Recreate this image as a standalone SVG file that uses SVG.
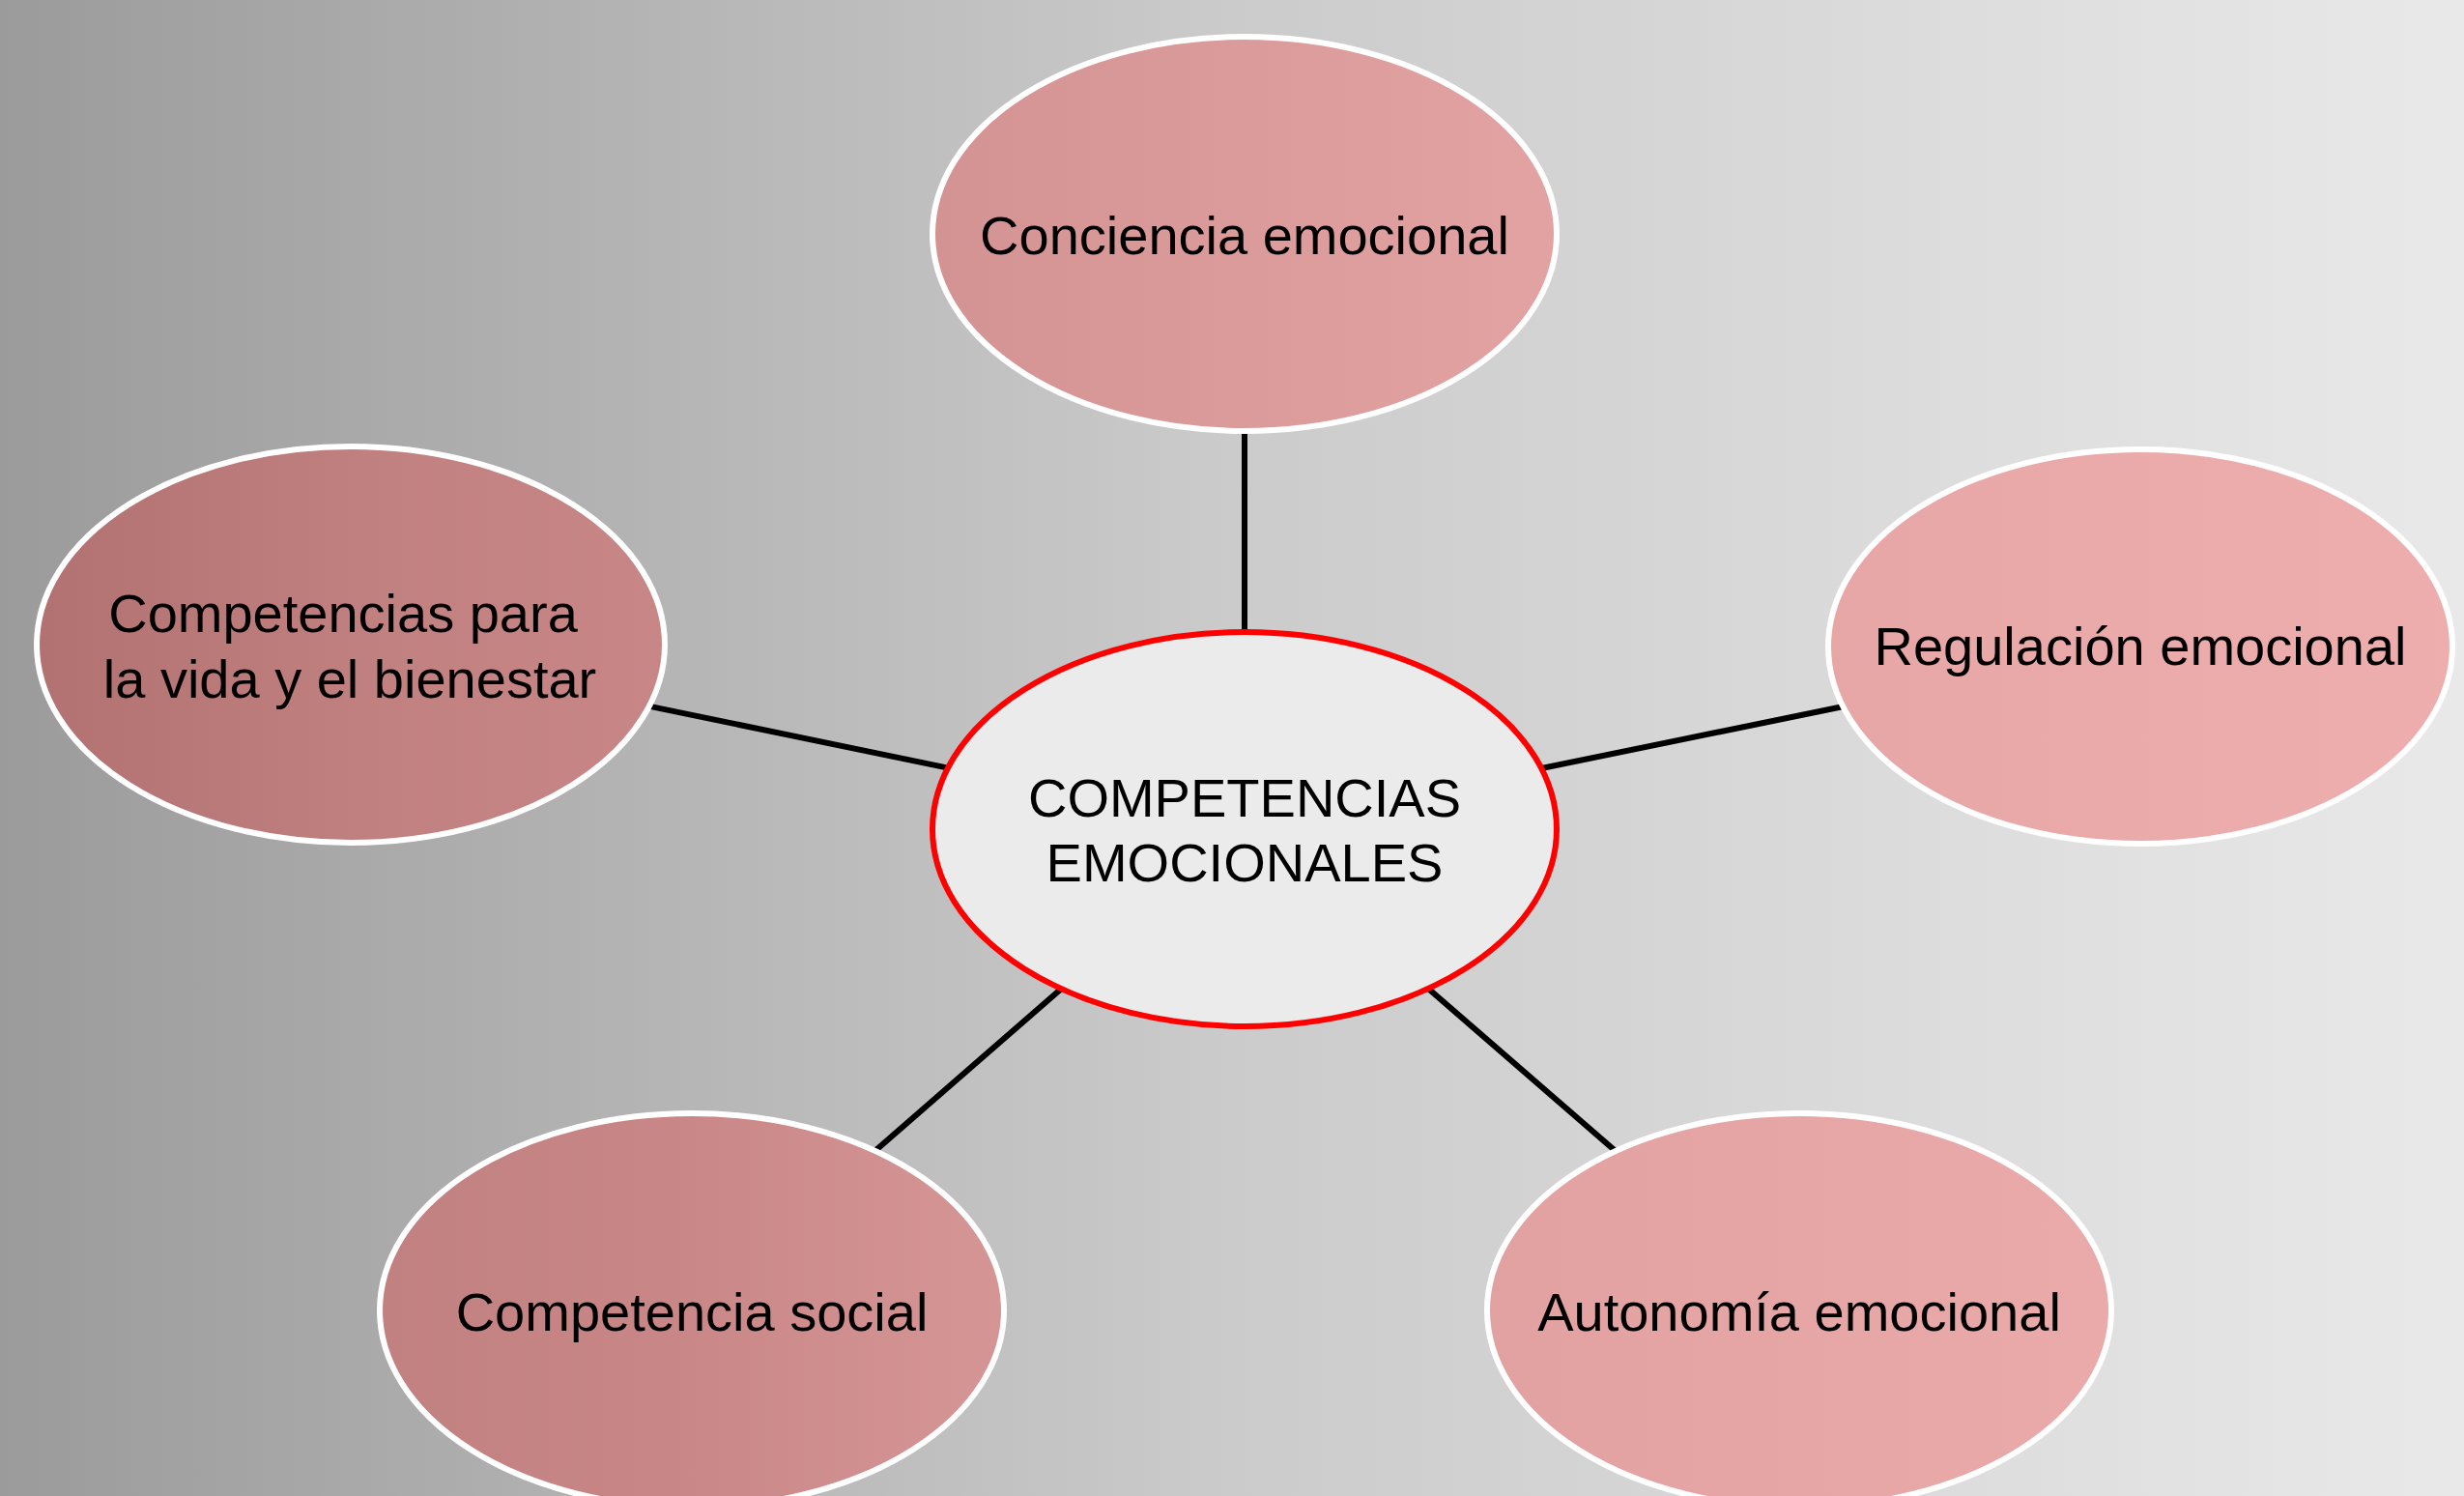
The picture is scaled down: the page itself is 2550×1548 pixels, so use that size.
<svg xmlns="http://www.w3.org/2000/svg" width="2550" height="1548" viewBox="0 0 2550 1548">
<defs>
<linearGradient id="bg" x1="0" y1="0" x2="2550" y2="0" gradientUnits="userSpaceOnUse">
<stop offset="0" stop-color="#9b9b9b"/>
<stop offset="0.5" stop-color="#cbcbcb"/>
<stop offset="1" stop-color="#e9e9e9"/>
</linearGradient>
<linearGradient id="pink" x1="0" y1="0" x2="2550" y2="0" gradientUnits="userSpaceOnUse">
<stop offset="0" stop-color="#b07070"/>
<stop offset="0.157" stop-color="#c18180"/>
<stop offset="0.27" stop-color="#c88786"/>
<stop offset="0.39" stop-color="#d59494"/>
<stop offset="0.62" stop-color="#e3a2a2"/>
<stop offset="0.85" stop-color="#eaaaaa"/>
<stop offset="1" stop-color="#eeaeae"/>
</linearGradient>
</defs>
<style>
.sat{fill:url(#pink);stroke:#ffffff;stroke-width:6}
.hub{fill:#ebebeb;stroke:#ff0000;stroke-width:6}
.lbl{font-family:"Liberation Sans",Arial,sans-serif;font-size:56px;fill:#000000;text-anchor:middle}
.conn line{stroke:#000000;stroke-width:6}
</style>
<rect x="0" y="0" width="2550" height="1548" fill="url(#bg)"/>
<g id="connectors" class="conn">
<line x1="1288" y1="858" x2="1288" y2="242"/>
<line x1="1288" y1="858" x2="2215" y2="668"/>
<line x1="1288" y1="858" x2="1862" y2="1356"/>
<line x1="1288" y1="858" x2="716" y2="1356"/>
<line x1="1288" y1="858" x2="363" y2="667"/>
</g>
<g id="node-center">
<ellipse class="hub" cx="1288" cy="858" rx="323" ry="204"/>
<text class="lbl" x="1288" y="845">COMPETENCIAS</text>
<text class="lbl" x="1288" y="912">EMOCIONALES</text>
</g>
<g id="node-conciencia">
<ellipse class="sat" cx="1288" cy="242" rx="323" ry="204"/>
<text class="lbl" x="1288" y="263">Conciencia emocional</text>
</g>
<g id="node-regulacion">
<ellipse class="sat" cx="2215" cy="669" rx="323" ry="204"/>
<text class="lbl" x="2215" y="688">Regulación emocional</text>
</g>
<g id="node-autonomia">
<ellipse class="sat" cx="1862" cy="1356" rx="323" ry="204"/>
<text class="lbl" x="1862" y="1377">Autonomía emocional</text>
</g>
<g id="node-social">
<ellipse class="sat" cx="716" cy="1356" rx="323" ry="204"/>
<text class="lbl" x="716" y="1377">Competencia social</text>
</g>
<g id="node-vida">
<ellipse class="sat" cx="363" cy="667" rx="325" ry="205"/>
<text class="lbl" x="355" y="654">Competencias para</text>
<text class="lbl" x="362" y="722">la vida y el bienestar</text>
</g>
</svg>
